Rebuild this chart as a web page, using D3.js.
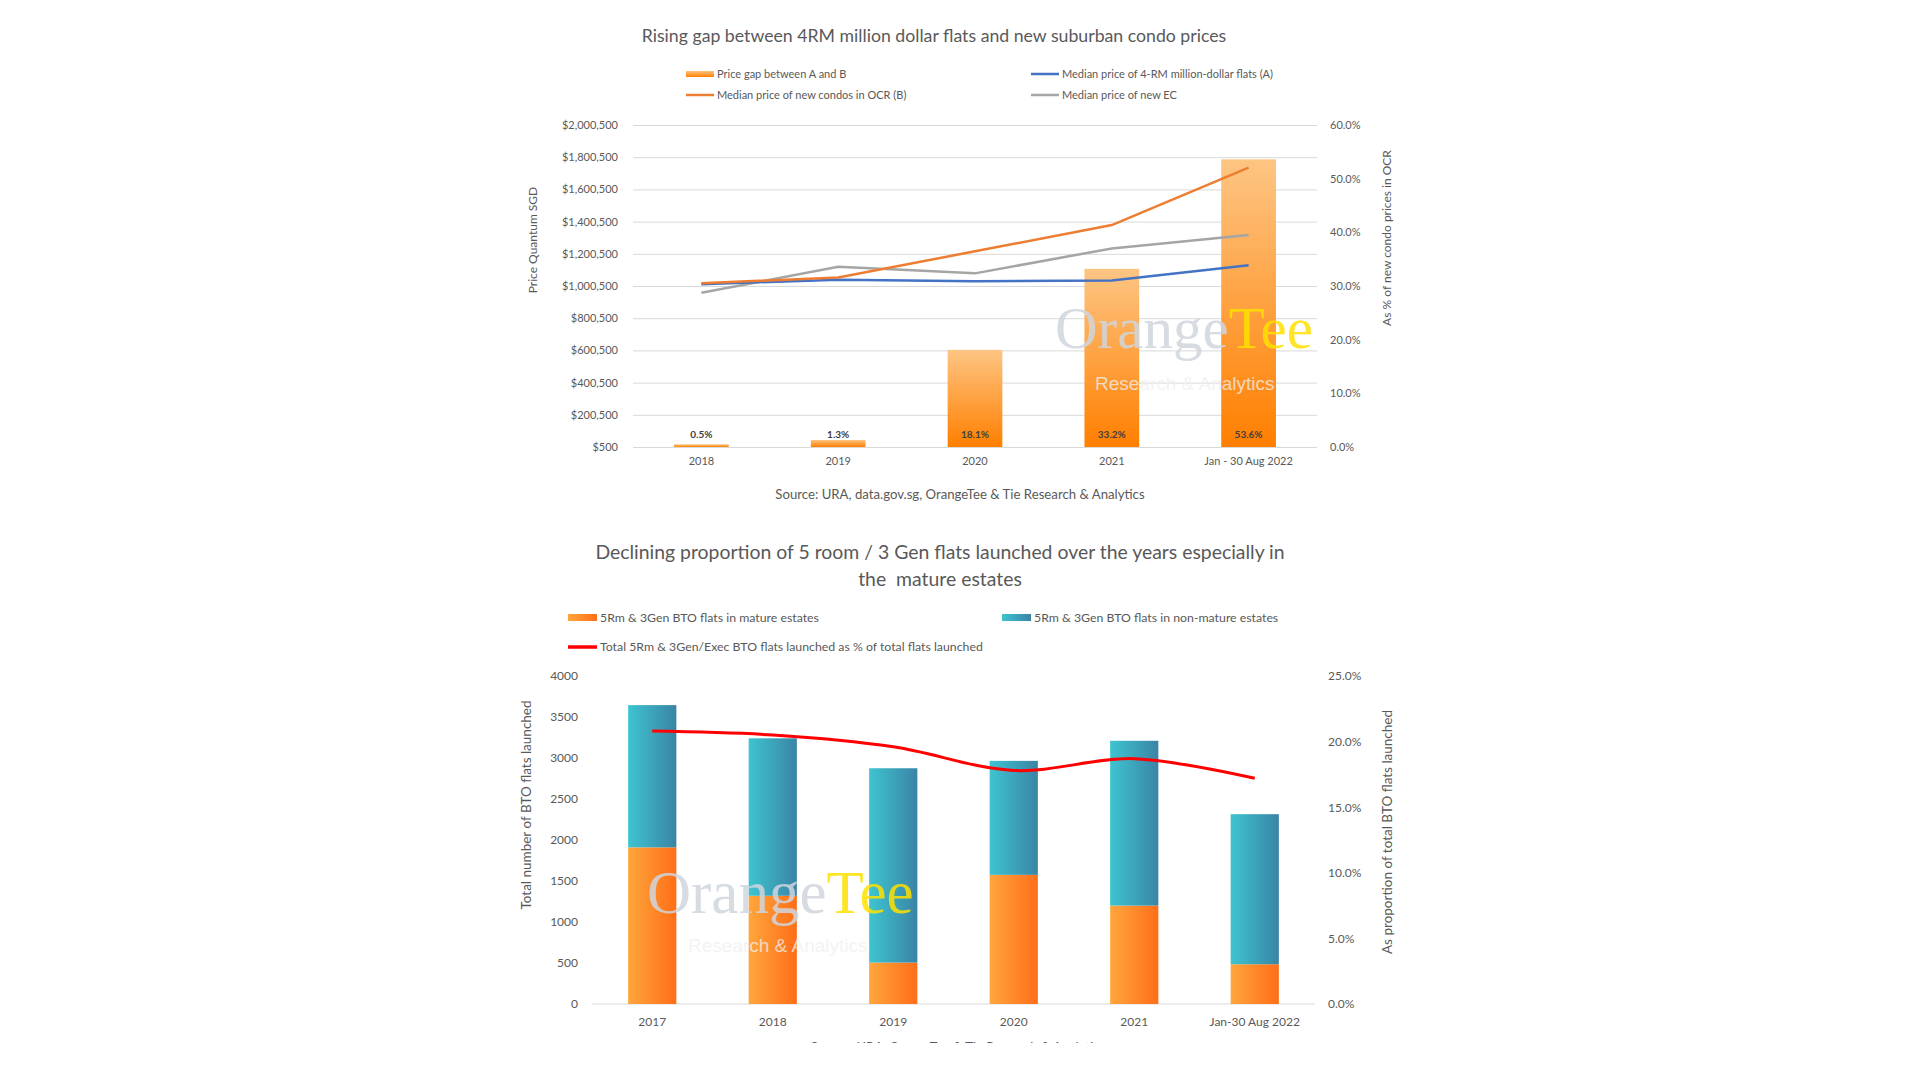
<!DOCTYPE html>
<html>
<head>
<meta charset="utf-8">
<script src="https://cdn.jsdelivr.net/npm/d3@7"></script>
<style>
  body { margin: 0; background: #fff; }
  svg text { font-family: Lato, "Open Sans", sans-serif; fill: #595959; }
</style>
</head>
<body>
<script>
// top chart data
var topCategories = ["2018", "2019", "2020", "2021", "Jan - 30 Aug 2022"];
var priceGapPct = [0.5, 1.3, 18.1, 33.2, 53.6];
var medianFlatA = [1012000, 1040000, 1030000, 1035000, 1130000];
var medianCondoB = [1017000, 1054000, 1216000, 1379000, 1736000];
var medianEC = [958000, 1120000, 1079000, 1234000, 1317000];
var topPriceTicks = [500, 200500, 400500, 600500, 800500, 1000500, 1200500, 1400500, 1600500, 1800500, 2000500];
var topPctTicks = [0, 10, 20, 30, 40, 50, 60];

// bottom chart data
var btoCategories = ["2017", "2018", "2019", "2020", "2021", "Jan-30 Aug 2022"];
var matureFlats = [1910, 1320, 505, 1575, 1200, 485];
var nonMatureFlats = [1735, 1920, 2370, 1390, 2010, 1830];
var totalSharePct = [20.8, 20.5, 19.6, 17.8, 18.7, 17.2];
var btoCountTicks = [0, 500, 1000, 1500, 2000, 2500, 3000, 3500, 4000];
var btoPctTicks = [0, 5, 10, 15, 20, 25];

var svg = d3.select("body").append("svg")
    .attr("width", 1920)
    .attr("height", 1080);

var defs = svg.append("defs");

function addGradient(id, x2, y2, c1, c2) {
    var g = defs.append("linearGradient")
        .attr("id", id)
        .attr("x1", 0).attr("y1", 0)
        .attr("x2", x2).attr("y2", y2);
    g.append("stop").attr("offset", "0%").attr("stop-color", c1);
    g.append("stop").attr("offset", "100%").attr("stop-color", c2);
}
addGradient("gapFill", 0, 1, "#fdc583", "#ff7f00");
addGradient("matureFill", 1, 0, "#ffa63c", "#ff6e18");
addGradient("nonMatureFill", 1, 0, "#3ec4d0", "#3a84a5");

function watermark(x, y, size, subX, subY) {
    var t = svg.append("text")
        .attr("x", x).attr("y", y)
        .style("font-family", "'Liberation Serif', 'DejaVu Serif', serif")
        .style("font-size", size + "px")
        .attr("opacity", 0.85);
    t.append("tspan").text("Orange").style("fill", "#cfd6de");
    t.append("tspan").text("Tee").style("fill", "#ffe100");
    svg.append("text")
        .attr("x", subX).attr("y", subY)
        .text("Research & Analytics")
        .style("font-family", "'Liberation Sans', Arial, sans-serif")
        .style("font-size", "19px")
        .style("fill", "#f0f0f0")
        .attr("opacity", 0.75);
}

// ---------- top chart ----------
var box1 = { left: 633, right: 1317, top: 125, bottom: 447 };

var xTop = d3.scaleBand()
    .domain(topCategories)
    .range([box1.left, box1.right])
    .paddingInner(0.6)
    .paddingOuter(0.3);

var yPrice = d3.scaleLinear().domain([500, 2000500]).range([box1.bottom, box1.top]);
var yGap = d3.scaleLinear().domain([0, 60]).range([box1.bottom, box1.top]);

svg.append("text")
    .attr("x", 934).attr("y", 42)
    .attr("text-anchor", "middle")
    .style("font-size", "17.7px")
    .text("Rising gap between 4RM million dollar flats and new suburban condo prices");

// gridlines + left axis
var leftAxis = svg.append("g")
    .attr("transform", "translate(" + box1.left + ",0)")
    .call(d3.axisLeft(yPrice).tickValues(topPriceTicks)
        .tickFormat(function(d) { return "$" + d3.format(",")(d); })
        .tickSize(-(box1.right - box1.left)).tickPadding(15));
leftAxis.select(".domain").remove();
leftAxis.selectAll("line").attr("stroke", "#d9d9d9");
leftAxis.selectAll("text").style("font-size", "11px");

var rightAxis = svg.append("g")
    .attr("transform", "translate(" + box1.right + ",0)")
    .call(d3.axisRight(yGap).tickValues(topPctTicks)
        .tickFormat(function(d) { return d.toFixed(1) + "%"; })
        .tickSize(0).tickPadding(13));
rightAxis.select(".domain").remove();
rightAxis.selectAll("text").style("font-size", "11px");

var xAxisTop = svg.append("g")
    .attr("transform", "translate(0," + box1.bottom + ")")
    .call(d3.axisBottom(xTop).tickSize(0).tickPadding(10));
xAxisTop.select(".domain").remove();
xAxisTop.selectAll("text").style("font-size", "11px");

svg.selectAll(".gapBar")
    .data(priceGapPct)
    .enter().append("rect")
    .attr("class", "gapBar")
    .attr("x", function(d, i) { return xTop(topCategories[i]); })
    .attr("width", xTop.bandwidth())
    .attr("y", function(d) { return yGap(d); })
    .attr("height", function(d) { return box1.bottom - yGap(d); })
    .attr("fill", "url(#gapFill)");

svg.selectAll(".gapLabel")
    .data(priceGapPct)
    .enter().append("text")
    .attr("class", "gapLabel")
    .attr("x", function(d, i) { return xTop(topCategories[i]) + xTop.bandwidth() / 2; })
    .attr("y", box1.bottom - 9)
    .attr("text-anchor", "middle")
    .style("font-size", "10px")
    .style("font-weight", "bold")
    .style("fill", "#404040")
    .text(function(d) { return d.toFixed(1) + "%"; });

var priceLine = d3.line()
    .x(function(d, i) { return xTop(topCategories[i]) + xTop.bandwidth() / 2; })
    .y(function(d) { return yPrice(d); });

[[medianEC, "#a5a5a5"], [medianFlatA, "#4472c4"], [medianCondoB, "#ed7d31"]].forEach(function(s) {
    svg.append("path")
        .datum(s[0])
        .attr("d", priceLine)
        .attr("fill", "none")
        .attr("stroke", s[1])
        .attr("stroke-width", 2.5);
});

watermark(1055, 348, 59, 1095, 390);

svg.append("text")
    .attr("transform", "translate(537,240) rotate(-90)")
    .attr("text-anchor", "middle")
    .style("font-size", "12px")
    .text("Price Quantum SGD");

svg.append("text")
    .attr("transform", "translate(1391,238) rotate(-90)")
    .attr("text-anchor", "middle")
    .style("font-size", "12px")
    .text("As % of new condo prices in OCR");

// legend top
var topLegend = [
    { label: "Price gap between A and B", type: "bar", color: "url(#gapFill)", x: 686, y: 74 },
    { label: "Median price of 4-RM million-dollar flats (A)", type: "line", color: "#4472c4", x: 1031, y: 74 },
    { label: "Median price of new condos in OCR (B)", type: "line", color: "#ed7d31", x: 686, y: 95 },
    { label: "Median price of new EC", type: "line", color: "#a5a5a5", x: 1031, y: 95 }
];
topLegend.forEach(function(l) {
    if (l.type == "bar") {
        svg.append("rect").attr("x", l.x).attr("y", l.y - 3).attr("width", 28).attr("height", 6).attr("fill", l.color);
    } else {
        svg.append("line").attr("x1", l.x).attr("x2", l.x + 28).attr("y1", l.y).attr("y2", l.y)
            .attr("stroke", l.color).attr("stroke-width", 2.5);
    }
    svg.append("text").attr("x", l.x + 31).attr("y", l.y + 4).style("font-size", "11px").text(l.label);
});

svg.append("text")
    .attr("x", 960).attr("y", 499)
    .attr("text-anchor", "middle")
    .style("font-size", "13.2px")
    .text("Source: URA, data.gov.sg, OrangeTee & Tie Research & Analytics");

// ---------- bottom chart ----------
var box2 = { left: 592, right: 1315, top: 676, bottom: 1004 };

var xBtm = d3.scaleBand()
    .domain(btoCategories)
    .range([box2.left, box2.right])
    .paddingInner(0.6)
    .paddingOuter(0.3);

var yCount = d3.scaleLinear().domain([0, 4000]).range([box2.bottom, box2.top]);
var yShare = d3.scaleLinear().domain([0, 25]).range([box2.bottom, box2.top]);

svg.append("text")
    .attr("x", 940).attr("y", 559)
    .attr("text-anchor", "middle")
    .style("font-size", "19.4px")
    .text("Declining proportion of 5 room / 3 Gen flats launched over the years especially in");
svg.append("text")
    .attr("x", 940).attr("y", 586)
    .attr("text-anchor", "middle")
    .style("font-size", "19.4px")
    .style("white-space", "pre")
    .text("the  mature estates");

var countAxis = svg.append("g")
    .attr("transform", "translate(" + box2.left + ",0)")
    .call(d3.axisLeft(yCount).tickValues(btoCountTicks).tickFormat(d3.format("d"))
        .tickSize(0).tickPadding(14));
countAxis.select(".domain").remove();
countAxis.selectAll("text").style("font-size", "12px");

var shareAxis = svg.append("g")
    .attr("transform", "translate(" + box2.right + ",0)")
    .call(d3.axisRight(yShare).tickValues(btoPctTicks)
        .tickFormat(function(d) { return d.toFixed(1) + "%"; })
        .tickSize(0).tickPadding(13));
shareAxis.select(".domain").remove();
shareAxis.selectAll("text").style("font-size", "12px");

svg.append("line")
    .attr("x1", box2.left).attr("x2", box2.right)
    .attr("y1", box2.bottom).attr("y2", box2.bottom)
    .attr("stroke", "#d9d9d9");

var xAxisBtm = svg.append("g")
    .attr("transform", "translate(0," + box2.bottom + ")")
    .call(d3.axisBottom(xBtm).tickSize(0).tickPadding(13));
xAxisBtm.select(".domain").remove();
xAxisBtm.selectAll("text").style("font-size", "12px");

var stackData = btoCategories.map(function(c, i) {
    return { cat: c, mature: matureFlats[i], nonMature: nonMatureFlats[i] };
});
var series = d3.stack().keys(["mature", "nonMature"])(stackData);
var stackFills = { mature: "url(#matureFill)", nonMature: "url(#nonMatureFill)" };

svg.selectAll(".layer")
    .data(series)
    .enter().append("g")
    .attr("fill", function(d) { return stackFills[d.key]; })
    .selectAll("rect")
    .data(function(d) { return d; })
    .enter().append("rect")
    .attr("x", function(d) { return xBtm(d.data.cat); })
    .attr("width", xBtm.bandwidth())
    .attr("y", function(d) { return yCount(d[1]); })
    .attr("height", function(d) { return yCount(d[0]) - yCount(d[1]); });

var shareLine = d3.line()
    .curve(d3.curveCatmullRom)
    .x(function(d, i) { return xBtm(btoCategories[i]) + xBtm.bandwidth() / 2; })
    .y(function(d) { return yShare(d); });

svg.append("path")
    .datum(totalSharePct)
    .attr("d", shareLine)
    .attr("fill", "none")
    .attr("stroke", "#ff0000")
    .attr("stroke-width", 3);

watermark(647, 913, 61, 688, 952);

svg.append("text")
    .attr("transform", "translate(531,805) rotate(-90)")
    .attr("text-anchor", "middle")
    .style("font-size", "13.5px")
    .text("Total number of BTO flats launched");

svg.append("text")
    .attr("transform", "translate(1392,832) rotate(-90)")
    .attr("text-anchor", "middle")
    .style("font-size", "13.5px")
    .text("As proportion of total BTO flats launched");

var btoLegend = [
    { label: "5Rm & 3Gen BTO flats in mature estates", type: "bar", color: "url(#matureFill)", x: 568, y: 618 },
    { label: "5Rm & 3Gen BTO flats in non-mature estates", type: "bar", color: "url(#nonMatureFill)", x: 1002, y: 618 },
    { label: "Total 5Rm & 3Gen/Exec BTO flats launched as % of total flats launched", type: "line", color: "#ff0000", x: 568, y: 647 }
];
btoLegend.forEach(function(l) {
    if (l.type == "bar") {
        svg.append("rect").attr("x", l.x).attr("y", l.y - 4).attr("width", 29).attr("height", 7).attr("fill", l.color);
    } else {
        svg.append("line").attr("x1", l.x).attr("x2", l.x + 29).attr("y1", l.y).attr("y2", l.y)
            .attr("stroke", l.color).attr("stroke-width", 3.5);
    }
    svg.append("text").attr("x", l.x + 32).attr("y", l.y + 4).style("font-size", "12.3px").text(l.label);
});

// source line is cut off at the bottom of the picture
defs.append("clipPath").attr("id", "cutBottom")
    .append("rect").attr("x", 0).attr("y", 0).attr("width", 1920).attr("height", 1043);
svg.append("text")
    .attr("clip-path", "url(#cutBottom)")
    .attr("x", 958).attr("y", 1052)
    .attr("text-anchor", "middle")
    .style("font-size", "13px")
    .text("Source: URA, OrangeTee & Tie Research & Analytics");
</script>
</body>
</html>
